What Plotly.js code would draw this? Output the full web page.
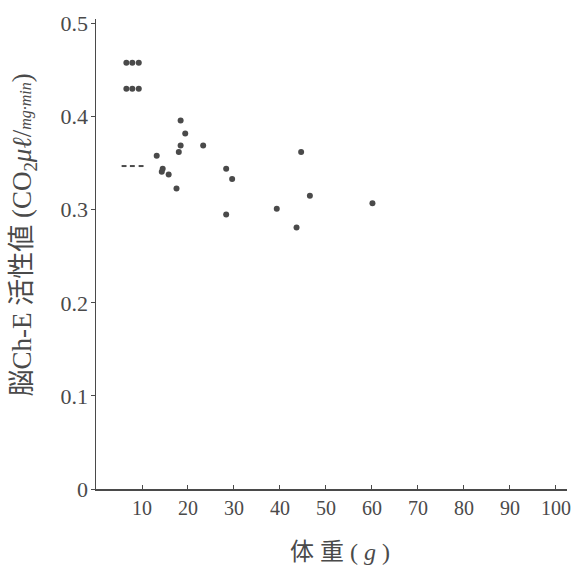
<!DOCTYPE html>
<html>
<head>
<meta charset="utf-8">
<script src="https://cdn.plot.ly/plotly-3.0.1.min.js"></script>
<style>html,body{margin:0;padding:0;background:#fff;}#chart{width:580px;height:565px;}</style>
</head>
<body>
<div id="chart"></div>
<script>
// body weight (g) and brain Ch-E activity — individual points
const weightDots = [6.6, 7.9, 9.3, 6.6, 7.9, 9.3, 13.2, 14.3, 14.5, 15.8, 17.5, 18.0, 18.4, 18.4, 19.4, 23.3, 28.3, 29.6, 28.3, 39.3, 43.6, 44.6, 46.5, 60.1];
const activityDots = [0.458, 0.458, 0.458, 0.430, 0.430, 0.430, 0.358, 0.341, 0.344, 0.338, 0.323, 0.362, 0.369, 0.396, 0.382, 0.369, 0.344, 0.333, 0.295, 0.301, 0.281, 0.362, 0.315, 0.307];
// short dash marks
const weightDash = [6.1, 7.9, 9.8];
const activityDash = [0.347, 0.347, 0.347];
const xTicks = [10, 20, 30, 40, 50, 60, 70, 80, 90, 100];
const yTicks = [0, 0.1, 0.2, 0.3, 0.4, 0.5];
const yTickText = ['0', '0.1', '0.2', '0.3', '0.4', '0.5'];

const ink = '#4a4a4a';
const serif = 'Liberation Serif, DejaVu Serif, serif';
const mixed = 'Liberation Serif, Noto Sans CJK JP, serif';

const traces = [
  {x: weightDots, y: activityDots, type: 'scatter', mode: 'markers',
   marker: {color: ink, size: 6}, hoverinfo: 'x+y'},
  {x: weightDash, y: activityDash, type: 'scatter', mode: 'markers',
   marker: {symbol: 'line-ew', size: 3.5, line: {color: ink, width: 2}}, hoverinfo: 'x+y'}
];

const layout = {
  width: 580, height: 565,
  margin: {l: 96, r: 13, t: 19, b: 76},
  paper_bgcolor: '#fff', plot_bgcolor: '#fff',
  showlegend: false,
  xaxis: {
    range: [0, 102.4], tickvals: xTicks, ticktext: xTicks.map(String),
    showgrid: false, zeroline: false, showline: true, linecolor: ink, linewidth: 1.5,
    ticks: 'inside', ticklen: 4, tickcolor: ink, tickwidth: 1,
    tickfont: {family: serif, size: 20, color: ink}
  },
  yaxis: {
    range: [0, 0.505], tickvals: yTicks, ticktext: yTickText,
    showgrid: false, zeroline: false, showline: true, linecolor: ink, linewidth: 1.5,
    ticks: 'outside', ticklen: 4, tickcolor: ink, tickwidth: 1,
    ticklabelstandoff: -2,
    tickfont: {family: serif, size: 22, color: ink}
  },
  annotations: [{
    xref: 'paper', yref: 'paper', x: -0.152, y: 0.54,
    xanchor: 'center', yanchor: 'middle', textangle: -90, showarrow: false,
    text: '脳Ch-E 活性値 (CO<sub>2</sub><i>μℓ</i>/<i><span style="font-size:16px">mg·min</span></i>)',
    font: {family: mixed, size: 27, color: ink}
  }, {
    xref: 'paper', yref: 'paper', x: 0.518, y: -0.134,
    xanchor: 'center', yanchor: 'middle', showarrow: false,
    text: '体 重 ( <i>g</i> )',
    font: {family: mixed, size: 24, color: ink}
  }]
};

Plotly.newPlot('chart', traces, layout, {displayModeBar: false, staticPlot: true});
</script>
</body>
</html>
